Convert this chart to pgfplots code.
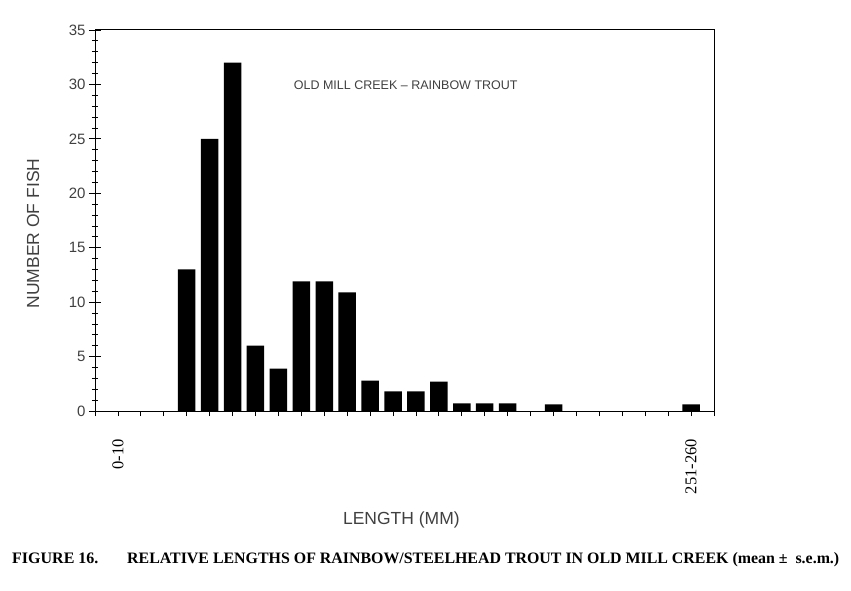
\documentclass[border=0pt]{standalone}
\usepackage{fontspec}
\setmainfont{Liberation Serif}
\setsansfont{Liberation Sans}
\usepackage{pgfplots}
\pgfplotsset{compat=1.18}
\usepackage{pgfplotstable}
\pgfplotstableread{
x y
4 13
5 25
6 32
7 6
8 3.9
9 11.9
10 11.9
11 10.9
12 2.8
13 1.8
14 1.8
15 2.7
16 0.7
17 0.7
18 0.7
20 0.6
26 0.6
}\fishdata
\definecolor{txt}{gray}{0.25}
\begin{document}
\begin{tikzpicture}
\path[use as bounding box] (0,0) rectangle (851bp,591bp);
\begin{axis}[
  at={(95bp,180bp)}, anchor=south west,
  scale only axis, width=619bp, height=381bp,
  xmin=0, xmax=27, ymin=0, ymax=35,
  axis line style={line width=1bp},
  ytick={0,5,...,35}, minor y tick num=4,
  tick align=center,
  major tick length=12bp, minor tick length=6bp,
  tick style={black, line width=0.8bp},
  xtick pos=bottom, ytick pos=left,
  xtick=\empty,
  extra x ticks={0,...,27},
  extra x tick labels={{},0-10,{},{},{},{},{},{},{},{},{},{},{},{},{},{},{},{},{},{},{},{},{},{},{},{},251-260,{}},
  extra x tick style={major tick length=5bp, tick align=center,
    major x tick style={yshift=-2.5bp},
    xticklabel style={rotate=90, anchor=east, font=\fontsize{16.5bp}{18bp}\selectfont\rmfamily, text=black}},
  xticklabel shift=22bp,
  yticklabel style={font=\fontsize{15bp}{17bp}\selectfont\sffamily, text=txt},
  /pgf/number format/assume math mode=true,
  ylabel={NUMBER OF FISH},
  xlabel={LENGTH (MM)},
  every axis y label/.style={at={(axis description cs:-0.1,0.466)}, rotate=90, anchor=center,
    font=\fontsize{17.5bp}{20bp}\selectfont\sffamily, text=txt},
  every axis x label/.style={at={(axis description cs:0.495,-0.286)}, anchor=center,
    font=\fontsize{17.5bp}{20bp}\selectfont\sffamily, text=txt},
  clip=false,
]
\addplot[ybar, bar width=17.5bp, fill=black, draw=none] table[x=x,y=y] {\fishdata};
\node[font=\fontsize{12.5bp}{14bp}\selectfont\sffamily, text=txt] at (axis description cs:0.502,0.856) {OLD MILL CREEK -- RAINBOW TROUT};
\end{axis}
\node[anchor=base west, font=\fontsize{16bp}{18bp}\selectfont\bfseries, inner sep=0pt] at (12bp,28bp) {FIGURE 16.};
\node[anchor=base west, font=\fontsize{15.9bp}{18bp}\selectfont\bfseries, inner sep=0pt] at (127bp,28bp) {RELATIVE LENGTHS OF RAINBOW/STEELHEAD TROUT IN OLD MILL CREEK (mean ±\ \ s.e.m.)};
\end{tikzpicture}
\end{document}
